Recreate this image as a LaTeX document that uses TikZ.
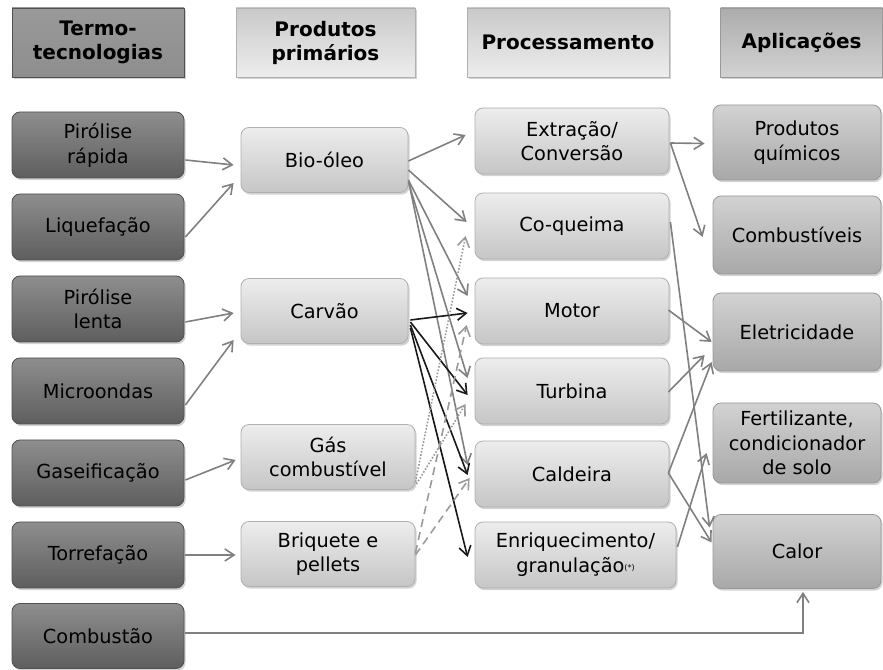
\documentclass[tikz,border=0pt]{standalone}
\usepackage{fontspec}
\setmainfont{DejaVu Sans}
\usetikzlibrary{arrows.meta,shadows,calc}
\definecolor{darktop}{HTML}{8E8E8E}
\definecolor{darkbot}{HTML}{5E5E5E}
\definecolor{darkline}{HTML}{505050}
\definecolor{lighttop}{HTML}{EDEDED}
\definecolor{lightbot}{HTML}{C6C6C6}
\definecolor{lightline}{HTML}{B0B0B0}
\definecolor{midtop}{HTML}{D2D2D2}
\definecolor{midbot}{HTML}{A8A8A8}
\definecolor{midline}{HTML}{999999}
\definecolor{arrgray}{HTML}{808080}
\definecolor{dotgray}{HTML}{9A9A9A}
\begin{document}
\begin{tikzpicture}[x=0.75pt,y=-0.75pt,
  font=\fontsize{14.5}{18.5}\selectfont,
  sz/.style 2 args={minimum width=#1*0.75pt, minimum height=#2*0.75pt},
  basebox/.style={rectangle, rounded corners=6pt, align=center, inner sep=0pt,
     line width=0.6pt, drop shadow={shadow xshift=1.2pt, shadow yshift=-1.6pt, opacity=0.35}},
  darkbox/.style={basebox, top color=darktop, bottom color=darkbot, draw=darkline},
  lightbox/.style={basebox, top color=lighttop, bottom color=lightbot, draw=lightline},
  midbox/.style={basebox, top color=midtop, bottom color=midbot, draw=midline},
  hdr/.style={rectangle, align=center, inner sep=0pt, line width=0.6pt,
     font=\fontsize{15}{18}\selectfont\bfseries,
     drop shadow={shadow xshift=1.2pt, shadow yshift=-1.6pt, opacity=0.35}},
  hdark/.style={hdr, top color=darktop!90, bottom color=darktop, draw=darkline},
  hlight/.style={hdr, top color=lightbot!95, bottom color=lighttop, draw=lightline},
  hmid/.style={hdr, top color=midbot!95, bottom color=midtop, draw=midline},
  tipstyle/.style={-{Straight Barb[length=7pt,width=9pt]}},
  ar/.style={draw=arrgray, line width=1.2pt, tipstyle},
  arblack/.style={draw=black!90, line width=1.2pt, tipstyle},
  ardot/.style={draw=dotgray, line width=1.2pt, dash pattern=on 1.2pt off 1.3pt, tipstyle},
  ardash/.style={draw=dotgray, line width=1.2pt, dash pattern=on 6pt off 4pt, tipstyle}
]
\useasboundingbox (0,0) rectangle (883,670);

% headers
\node[hdark, sz={172}{69}] (h1) at (98,42.5) {Termo-\\tecnologias};
\node[hlight, sz={179}{69}] (h2) at (325.5,42.5) {Produtos\\primários};
\node[hlight, sz={202}{69}] (h3) at (568,42.5) {Processamento};
\node[hmid, sz={162}{69}] (h4) at (801.5,42.5) {Aplicações};

% column 1
\node[darkbox, sz={172}{66}] (pr) at (98,145) {Pirólise\\rápida};
\node[darkbox, sz={172}{66}] (liq) at (98,227) {Liquefação};
\node[darkbox, sz={172}{66}] (pl) at (98,309) {Pirólise\\lenta};
\node[darkbox, sz={172}{66}] (mic) at (98,391) {Microondas};
\node[darkbox, sz={172}{66}] (gas) at (98,473) {Gaseificação};
\node[darkbox, sz={172}{66}] (tor) at (98,555) {Torrefação};
\node[darkbox, sz={172}{65}] (comb) at (98,636) {Combustão};

% column 2
\node[lightbox, sz={167}{65}] (bio) at (324.5,160) {Bio-óleo};
\node[lightbox, sz={167}{65}] (carv) at (324.5,311) {Carvão};
\node[lightbox, sz={174}{65}] (gasc) at (328,457) {Gás\\combustível};
\node[lightbox, sz={174}{65}] (briq) at (328,554) {Briquete e\\pellets};

% column 3
\node[lightbox, sz={194}{66}] (ext) at (572,141) {Extração/\\Conversão};
\node[lightbox, sz={194}{66}] (coq) at (572,226) {Co-queima};
\node[lightbox, sz={194}{66}] (mot) at (572,311) {Motor};
\node[lightbox, sz={194}{66}] (tur) at (572,391) {Turbina};
\node[lightbox, sz={194}{66}] (cal) at (572,474) {Caldeira};
\node[lightbox, sz={201}{66}] (enr) at (575.5,555) {Enriquecimento/\\granulação\raisebox{1.5pt}{\fontsize{6}{6}\selectfont(*)}};

% column 4
\node[midbox, sz={168}{75}] (pq) at (797,142.5) {Produtos\\químicos};
\node[midbox, sz={168}{78}] (cmb) at (797,235) {Combustíveis};
\node[midbox, sz={168}{78}] (ele) at (797,332) {Eletricidade};
\node[midbox, sz={168}{80}] (fer) at (797,443) {Fertilizante,\\condicionador\\de solo};
\node[midbox, sz={168}{74}] (clr) at (797,551.5) {Calor};

% column 1 -> column 2
\draw[ar] ($(pr.east)+(1,15)$) -- ($(bio.west)+(-7,5)$);
\draw[ar] ($(liq.east)+(1,10)$) -- ($(bio.west)+(-7,23)$);
\draw[ar] ($(pl.east)+(1,13)$) -- ($(carv.west)+(-7,2)$);
\draw[ar] ($(mic.east)+(1,14)$) -- ($(carv.west)+(-7,29)$);
\draw[ar] ($(gas.east)+(1,7)$) -- ($(gasc.west)+(-5,3)$);
\draw[ar] ($(tor.east)+(1,0)$) -- ($(briq.west)+(-5,1)$);
\draw[ar] ($(comb.east)+(1,-3)$) -| ($(clr.south)+(6,3)$);

% bio-oleo outputs
\draw[ar] ($(bio.east)+(0,1)$) -- ($(ext.west)+(-9,-6)$);
\draw[ar] ($(bio.east)+(0,10)$) -- ($(coq.west)+(-8,-4)$);
\draw[ar] ($(bio.east)+(0,20)$) -- ($(mot.west)+(-7,-15)$);
\draw[ar] ($(bio.east)+(0,22)$) -- ($(tur.west)+(-7,-13)$);
\draw[ar] ($(bio.east)+(1,25)$) -- ($(cal.west)+(-7,-9)$);

% carvao outputs
\draw[arblack] ($(carv.east)+(2,9)$) -- ($(mot.west)+(-7,2)$);
\draw[arblack] ($(carv.east)+(2,11)$) -- ($(tur.west)+(-7,4)$);
\draw[arblack] ($(carv.east)+(2,14)$) -- ($(cal.west)+(-7,1)$);
\draw[arblack] ($(carv.east)+(2,17)$) -- ($(enr.west)+(-7,2)$);

% gas combustivel outputs (dotted)
\draw[ardot] ($(gasc.east)+(0,25)$) -- ($(coq.west)+(-9,10)$);
\draw[ardot] ($(gasc.east)+(1,27)$) -- ($(tur.west)+(-9,13)$);

% briquete outputs (dashed)
\draw[ardash] ($(briq.east)+(0,-1)$) -- ($(mot.west)+(-8,14)$);
\draw[ardash] ($(briq.east)+(0,1)$) -- ($(cal.west)+(-5,4)$);

% column 3 -> column 4
\draw[ar] ($(ext.east)+(1,2)$) -- ($(pq.west)+(-8,1)$);
\draw[ar] ($(ext.east)+(1,2)$) -- ($(cmb.west)+(-10,2)$);
\draw[ar] ($(coq.east)+(1,-4)$) -- ($(clr.west)+(-3,-24)$);
\draw[ar] ($(mot.east)+(-1,-1)$) -- ($(ele.west)+(-1,10)$);
\draw[ar] ($(tur.east)+(-1,1)$) -- ($(ele.west)+(-8,23)$);
\draw[ar] ($(cal.east)+(-1,-1)$) -- ($(ele.west)+(-1,30)$);
\draw[ar] ($(cal.east)+(-1,-1)$) -- ($(clr.west)+(-1,-9)$);
\draw[ar] ($(enr.east)+(1,-8)$) -- ($(fer.west)+(-6,10)$);
\end{tikzpicture}
\end{document}
